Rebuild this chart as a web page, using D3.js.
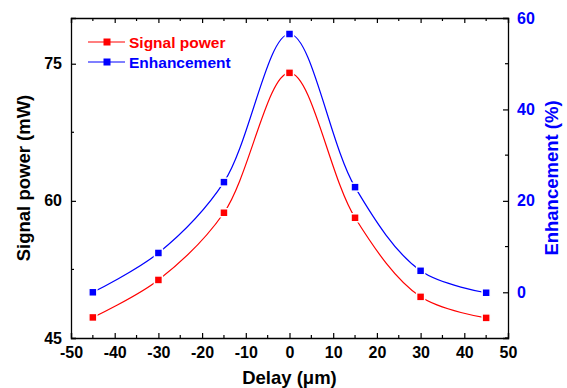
<!DOCTYPE html>
<html>
<head>
<meta charset="utf-8">
<script src="https://cdn.jsdelivr.net/npm/d3@7"></script>
<style>
  body { margin: 0; background: #fff; }
  text { font-family: "Liberation Sans", Arial, sans-serif; font-weight: bold; }
</style>
</head>
<body>
<svg id="chart"></svg>
<script>
const delay = [-45, -30, -15, 0, 15, 30, 45];
const signalPower = [47.25, 51.35, 58.7, 74.0, 58.15, 49.5, 47.2];
const enhancement = [0, 8.6, 24.1, 56.5, 23.0, 4.7, -0.1];

const xTicks = [-50, -40, -30, -20, -10, 0, 10, 20, 30, 40, 50];
const leftTicks = [45, 60, 75];
const rightTicks = [0, 20, 40, 60];

const width = 567, height = 388;
const margin = {top: 18, right: 59, bottom: 50, left: 71};

const svg = d3.select("#chart")
              .attr("width", width)
              .attr("height", height);

const x = d3.scaleLinear().domain([-50, 50]).range([margin.left, width - margin.right]);
const yL = d3.scaleLinear().domain([45, 80]).range([height - margin.bottom, margin.top]);
const yR = d3.scaleLinear().domain([-10, 60]).range([height - margin.bottom, margin.top]);

const red = "#ff0000", blue = "#0000ff";
const fmt = d => String(d);

// axes (ticks inward)
const bottomAxis = d3.axisBottom(x).tickValues(xTicks).tickSize(-5).tickPadding(8).tickFormat(fmt);
const topAxis = d3.axisTop(x).tickValues(xTicks).tickSize(-5).tickFormat("");
const leftAxis = d3.axisLeft(yL).tickValues(leftTicks).tickSize(-5).tickPadding(9).tickFormat(fmt);
const rightAxis = d3.axisRight(yR).tickValues(rightTicks).tickSize(-5).tickPadding(9).tickFormat(fmt);

function styleAxis(g, color) {
  g.select(".domain").attr("stroke", "#000").attr("stroke-width", 1.3);
  g.selectAll(".tick line").attr("stroke", "#000").attr("stroke-width", 1.2);
  g.selectAll(".tick text").attr("fill", color).style("font-size", "16px");
}

// minor ticks
const minorX = d3.range(-45, 50, 10);
const minorL = [52.5, 67.5];
const minorR = [-10, 10, 30, 50];

const gB = svg.append("g").attr("transform", `translate(0,${height - margin.bottom})`).call(bottomAxis);
styleAxis(gB, "#000");
gB.selectAll(".tick text").attr("dy", "0.75em");
const gT = svg.append("g").attr("transform", `translate(0,${margin.top})`).call(topAxis);
styleAxis(gT, "#000");
const gL = svg.append("g").attr("transform", `translate(${margin.left},0)`).call(leftAxis);
styleAxis(gL, "#000");
const gR = svg.append("g").attr("transform", `translate(${width - margin.right},0)`).call(rightAxis);
styleAxis(gR, blue);

const minor = svg.append("g").attr("stroke", "#000").attr("stroke-width", 1.2);
minor.selectAll(".mb").data(minorX).join("line")
  .attr("x1", d => x(d)).attr("x2", d => x(d))
  .attr("y1", height - margin.bottom).attr("y2", height - margin.bottom - 3);
minor.selectAll(".mt").data(minorX).join("line")
  .attr("x1", d => x(d)).attr("x2", d => x(d))
  .attr("y1", margin.top).attr("y2", margin.top + 3);
minor.selectAll(".ml").data(minorL).join("line")
  .attr("x1", margin.left).attr("x2", margin.left + 3)
  .attr("y1", d => yL(d)).attr("y2", d => yL(d));
minor.selectAll(".mr").data(minorR).join("line")
  .attr("x1", width - margin.right).attr("x2", width - margin.right - 3)
  .attr("y1", d => yR(d)).attr("y2", d => yR(d));

// series
const curve = d3.curveCatmullRom.alpha(0.5);
const lineL = d3.line().x((d, i) => x(delay[i])).y(d => yL(d)).curve(curve);
const lineR = d3.line().x((d, i) => x(delay[i])).y(d => yR(d)).curve(curve);

svg.append("path").datum(signalPower).attr("d", lineL)
   .attr("fill", "none").attr("stroke", red).attr("stroke-width", 1.2);
svg.append("path").datum(enhancement).attr("d", lineR)
   .attr("fill", "none").attr("stroke", blue).attr("stroke-width", 1.2);

const s = 8;
svg.append("g").selectAll("rect").data(signalPower).join("rect")
   .attr("x", (d, i) => x(delay[i]) - s / 2).attr("y", d => yL(d) - s / 2)
   .attr("width", s).attr("height", s)
   .attr("fill", red).attr("stroke", "#fff").attr("stroke-width", 1.5);
svg.append("g").selectAll("rect").data(enhancement).join("rect")
   .attr("x", (d, i) => x(delay[i]) - s / 2).attr("y", d => yR(d) - s / 2)
   .attr("width", s).attr("height", s)
   .attr("fill", blue).attr("stroke", "#fff").attr("stroke-width", 1.5);

// legend
const legend = [{label: "Signal power", color: red, y: 42}, {label: "Enhancement", color: blue, y: 62}];
const lg = svg.append("g");
legend.forEach(l => {
  lg.append("line").attr("x1", 88).attr("x2", 125).attr("y1", l.y).attr("y2", l.y)
    .attr("stroke", l.color).attr("stroke-width", 1.2);
  lg.append("rect").attr("x", 107 - 3.5).attr("y", l.y - 3.5).attr("width", 7).attr("height", 7)
    .attr("fill", l.color);
  lg.append("text").attr("x", 129).attr("y", l.y + 5.5).attr("fill", l.color)
    .style("font-size", "15.5px").text(l.label);
});

// axis titles
svg.append("text").attr("x", (margin.left + width - margin.right) / 2).attr("y", 384)
   .attr("text-anchor", "middle").style("font-size", "18.5px").text("Delay (μm)");
svg.append("text").attr("transform", `translate(30,${(margin.top + height - margin.bottom) / 2}) rotate(-90)`)
   .attr("text-anchor", "middle").style("font-size", "18.5px").text("Signal power (mW)");
svg.append("text").attr("transform", `translate(558,${(margin.top + height - margin.bottom) / 2}) rotate(-90)`)
   .attr("text-anchor", "middle").attr("fill", blue).style("font-size", "18.5px").text("Enhancement (%)");
</script>
</body>
</html>
